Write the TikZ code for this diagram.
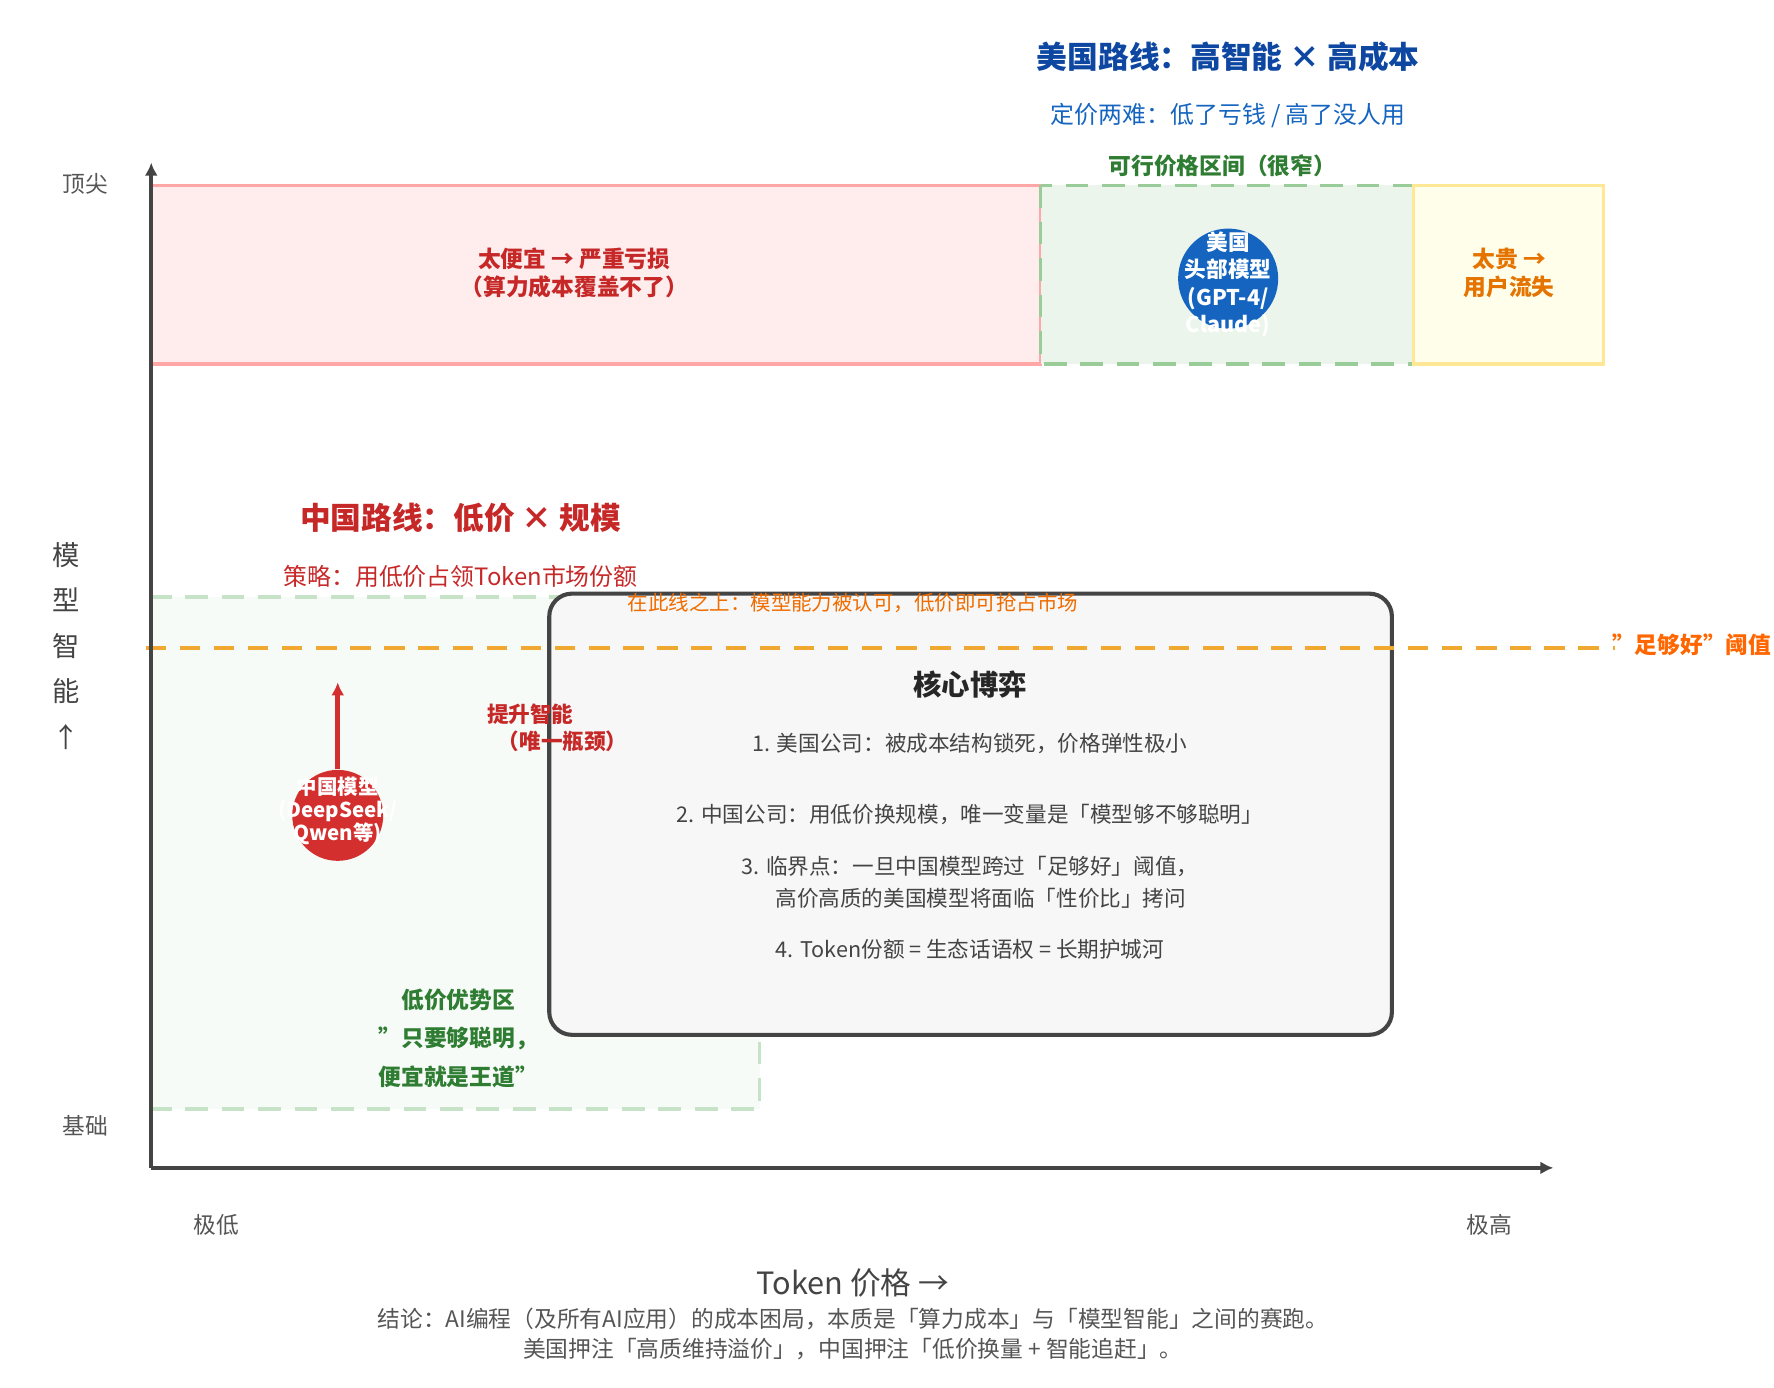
\documentclass[tikz,border=0pt]{standalone}
\usepackage{fontspec}
\setmainfont{Noto Sans CJK SC}
\setsansfont{Noto Sans CJK SC}
\usetikzlibrary{arrows.meta, positioning}
\definecolor{usblue}{HTML}{0D47A1}
\definecolor{usblue2}{HTML}{1565C0}
\definecolor{cnred}{HTML}{C62828}
\definecolor{dotred}{HTML}{D32F2F}
\definecolor{okgreen}{HTML}{2E7D32}
\definecolor{axisgray}{HTML}{444444}
\definecolor{txtgray}{HTML}{555555}
\definecolor{warnorange}{HTML}{EF6C00}
\definecolor{lineorange}{HTML}{F0A830}
\newcommand{\dq}{\symbol{34}}
\begin{document}
\begin{tikzpicture}[
        x=0.5pt, y=-0.5pt,
        font=\sffamily,
        >={Latex[width=2mm,length=2mm]},
        axis/.style={->, line width=1.6pt, color=axisgray},
        band/.style={line width=1.6pt},
        ticklabel/.style={font=\sffamily\fontsize{10}{12}\selectfont, color=txtgray},
        item/.style={font=\sffamily\fontsize{9.5}{14}\selectfont, color=axisgray, align=center},
        dotlabel/.style={font=\sffamily\bfseries\fontsize{9}{10}\selectfont, color=white, align=center},
    ]
    \useasboundingbox (0,0) rectangle (1560,1220);

    % Bands
    \draw[band, draw=red!35, fill=red!7] (133,163) rectangle (915,320);
    \draw[band, dashed, dash pattern=on 10pt off 6pt, draw=green!50!black!40, fill=green!50!black!8] (915,163) rectangle (1243,320);
    \draw[band, draw=yellow!60!orange!40, fill=yellow!8] (1243,163) rectangle (1410,320);
    \node[font=\sffamily\bfseries\fontsize{10}{12}\selectfont, color=cnred, align=center] (cheap) at (505,240) {太便宜 → 严重亏损\\（算力成本覆盖不了）};
    \node[font=\sffamily\bfseries\fontsize{10}{12}\selectfont, color=orange!90!black, align=center] (dear) at (1327,240) {太贵 →\\用户流失};

    % Titles
    \node[font=\sffamily\bfseries\fontsize{13.5}{16}\selectfont, color=usblue] (ustitle) at (1080,50) {美国路线：高智能 × 高成本};
    \node[font=\sffamily\fontsize{10.5}{12}\selectfont, color=usblue2] (ussub) at (1080,102) {定价两难：低了亏钱 / 高了没人用};
    \node[font=\sffamily\bfseries\fontsize{10}{12}\selectfont, color=okgreen] (window) at (1075,146) {可行价格区间（很窄）};
    \node[font=\sffamily\bfseries\fontsize{13.5}{16}\selectfont, color=cnred] (cntitle) at (405,455) {中国路线：低价 × 规模};
    \node[font=\sffamily\fontsize{10.5}{12}\selectfont, color=cnred] (cnsub) at (405,507) {策略：用低价占领\textit{Token}市场份额};

    % Low-price zone and core box
    \draw[band, dashed, dash pattern=on 10pt off 6pt, draw=green!50!black!22, fill=green!50!black!3] (133,525) rectangle (668,975);
    \draw[line width=1.8pt, draw=axisgray, fill=black!3, rounded corners=10pt] (483,522) rectangle (1224,910);

    % Threshold
    \draw[line width=1.6pt, dashed, dash pattern=on 9pt off 6pt, color=lineorange] (128,570) -- (1420,570);
    \node[font=\sffamily\bfseries\fontsize{10}{12}\selectfont, color=orange!80!red, anchor=east, inner xsep=1pt] (thr) at (1560,567) {\dq 足够好\dq 阈值};
    \node[font=\sffamily\fontsize{9}{11}\selectfont, color=warnorange] (above) at (750,530) {在此线之上：模型能力被认可，低价即可抢占市场};

    % Core game
    \node[font=\sffamily\bfseries\fontsize{12.5}{14}\selectfont, color=black!85] (core) at (853,602) {核心博弈};
    \node[item] (i1) at (853,654) {1. 美国公司：被成本结构锁死，价格弹性极小};
    \node[item] (i2) at (853,716) {2. 中国公司：用低价换规模，唯一变量是「模型够不够聪明」};
    \node[item] (i3) at (853,776) {3. 临界点：一旦中国模型跨过「足够好」阈值，\\\hspace*{1em}高价高质的美国模型将面临「性价比」拷问};
    \node[item] (i4) at (853,835) {4. Token份额 = 生态话语权 = 长期护城河};

    % Models
    \node[circle, fill=usblue2, minimum size=44] (us) at (1080,245) {};
    \node[dotlabel, font=\sffamily\bfseries\fontsize{9.5}{12}\selectfont] (uslabel) at (1080,250) {美国\\头部模型\\(GPT-4/\\Claude)};
    \node[circle, fill=dotred, minimum size=40] (cn) at (297,717) {};
    \coordinate (cntop) at (297,600);
    \draw[->, line width=2.4pt, color=dotred] (cn.north) -- (cntop);
    \node[dotlabel] (cnlabel) at (297,713) {中国模型\\(DeepSeek/\\Qwen等)};
    \node[font=\sffamily\bfseries\fontsize{9.5}{12}\selectfont, color=cnred, align=left] (boost) at (490,640) {提升智能\\\hspace*{0.5em}（唯一瓶颈）};
    \node[font=\sffamily\bfseries\fontsize{10}{17}\selectfont, color=okgreen, align=center] (zone) at (403,913) {低价优势区\\\dq 只要够聪明，\\便宜就是王道\dq};

    % Axes
    \coordinate (origin) at (133,1027);
    \coordinate (ytip) at (133,143);
    \coordinate (xtip) at (1366,1027);
    \draw[axis] (origin) -- (ytip);
    \draw[axis] (origin) -- (xtip);
    \node[ticklabel] (top) at (75,162) {顶尖};
    \node[ticklabel] (base) at (75,990) {基础};
    \node[ticklabel] (low) at (190,1077) {极低};
    \node[ticklabel] (high) at (1310,1077) {极高};
    \node[font=\sffamily\fontsize{12}{20}\selectfont, color=axisgray, align=center] (ylabel) at (58,568) {模\\型\\智\\能\\↑};
    \node[font=\sffamily\fontsize{13.5}{16}\selectfont, color=axisgray] (xlabel) at (750,1128) {Token 价格 →};

    % Conclusion
    \node[font=\sffamily\fontsize{10}{13}\selectfont, color=txtgray, align=center] (concl) at (750,1173) {结论：\textit{AI}编程（及所有\textit{AI}应用）的成本困局，本质是「算力成本」与「模型智能」之间的赛跑。\\美国押注「高质维持溢价」，中国押注「低价换量 + 智能追赶」。};
\end{tikzpicture}
\end{document}
